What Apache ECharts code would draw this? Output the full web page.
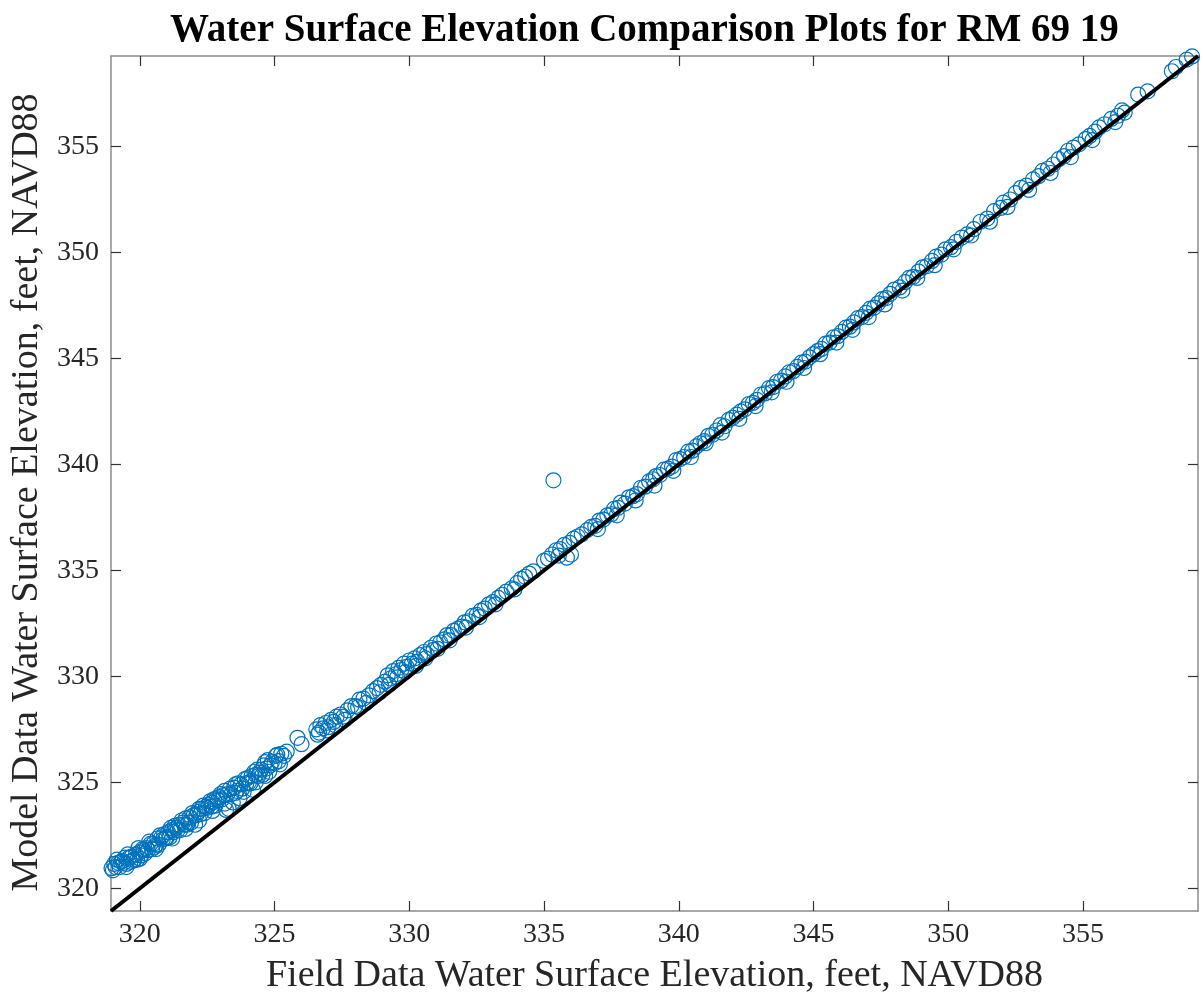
<!DOCTYPE html>
<html><head><meta charset="utf-8">
<script src="https://cdn.jsdelivr.net/npm/echarts@6/dist/echarts.min.js"></script>
<style>html,body{margin:0;padding:0;background:#fff}#chart{width:1203px;height:1000px}</style>
</head><body><div id="chart"></div>
<script>
// Axis limits (same for both axes) and tick labels
const axisRange = [318.93, 359.27];
const tickValues = [320, 325, 330, 335, 340, 345, 350, 355];

// [field, model] water surface elevations
const lowRange = [
[318.95,320.95],[319.0,320.85],[319.05,321.15],[319.1,321.0],[319.2,321.2],[319.25,321.0],[319.3,321.25],[319.35,321.3],
[319.4,321.2],[319.45,321.45],[319.5,321.15],[319.6,321.45],[319.65,321.25],[319.7,321.5],[319.75,321.3],[319.8,321.35],
[319.85,321.6],[319.9,321.35],[320.0,321.7],[320.05,321.55],[320.1,321.85],[320.15,321.8],[320.2,321.65],[320.25,321.9],
[320.3,321.8],[320.4,322.1],[320.45,321.85],[320.5,322.1],[320.55,321.95],[320.6,322.05],[320.65,322.35],[320.7,322.05],
[320.8,322.4],[320.85,322.3],[320.9,322.55],[320.95,322.35],[321.0,322.4],[321.05,322.65],[321.1,322.4],[321.2,322.75],
[321.25,322.65],[321.3,322.95],[321.35,322.85],[321.4,322.75],[321.45,323.0],[321.5,322.75],[321.6,323.1],[321.65,323.0],
[321.7,323.3],[321.75,323.0],[321.8,323.1],[321.85,323.35],[321.9,323.1],[322.0,323.45],[322.05,323.0],[322.1,323.45],
[322.15,323.6],[322.2,323.75],[322.25,323.5],[322.3,323.75],[322.4,323.55],[322.45,323.85],[322.5,323.8],[322.55,323.95],
[322.6,324.1],[322.65,323.85],[322.7,324.05],[322.8,323.9],[322.85,324.25],[322.9,324.15],[322.95,324.3],[323.0,324.45],
[323.05,324.2],[323.1,324.4],[323.2,323.7],[323.25,324.45],[323.3,323.75],[323.35,324.7],[323.4,324.45],[323.45,324.05],
[323.5,324.75],[323.55,324.5],[323.6,324.6],[323.65,324.95],[323.7,324.25],[323.75,324.9],[323.8,324.7],[323.9,325.15],
[323.95,324.95],[324.0,325.2],[324.05,325.0],[324.1,324.95],[324.15,325.3],[324.2,324.65],[324.3,325.35],[324.35,325.6],
[324.4,325.3],[324.45,325.45],[324.5,325.6],[324.55,325.35],[324.6,325.8],[324.7,325.65],[324.75,326.05],[324.8,325.5],
[324.85,325.8],[324.9,325.95],[325.0,325.9],[325.05,326.25],[325.15,326.0],[325.25,326.35],[325.35,326.25],[325.45,326.45]
];
const lowRangeExtra = [
[319.15,321.35],[319.55,321.6],[319.95,321.9],[320.35,322.2],[320.75,322.5],[321.15,322.85],[321.55,323.2],[321.95,323.55],
[322.35,323.9],[322.75,324.2],[323.15,324.6],[323.55,324.9],[324.25,325.5],[324.65,325.95],[325.1,326.3],
[319.5,321.0],[320.0,321.4],[320.6,321.85],[321.2,322.35],[321.7,322.8],[322.2,323.2],[322.7,323.65],[323.15,324.0],
[323.85,324.55],[324.3,325.0],[324.65,325.3],[325.2,325.85]
];
const midRange = [
[325.85,327.1],[326.0,326.8],[326.55,327.5],[326.65,327.35],[326.7,327.7],[326.8,327.55],[326.9,327.8],[327.0,327.6],
[327.1,327.95],[327.2,327.85],[327.3,328.1],[327.45,328.2],[327.55,328.1],[327.7,328.4],[327.85,328.6],[328.0,328.6],
[328.15,328.9],[328.3,328.95],[328.5,329.1],[328.65,329.3],[328.8,329.45],[328.95,329.6],[329.1,329.75],[329.2,330.05],
[329.3,329.9],[329.4,330.25],[329.5,330.1],[329.6,330.4],[329.7,330.3],[329.8,330.6],[329.9,330.45],[330.0,330.75],
[330.1,330.6],[330.2,330.85],[330.3,330.7],[330.4,331.0],[330.55,331.15],[330.65,331.05],[330.8,331.35],[330.9,331.25],
[331.0,331.55],[331.15,331.6],[331.3,331.75],[331.4,331.95],[331.55,331.95],[331.65,332.15],[331.8,332.25],[331.95,332.35],
[332.05,332.55],[332.2,332.6],[332.35,332.85],[332.5,332.9],[332.65,333.1],[332.8,333.2],[332.95,333.4],[333.1,333.5],
[333.3,333.7],[333.45,333.85],[333.6,334.0],[333.8,334.15],[334.0,334.4],[334.15,334.6],[334.3,334.7],[334.45,334.85],
[334.6,334.95],[335.0,335.45],[335.15,335.55],[335.3,335.75],[335.45,335.95],[335.6,336.0],[335.75,336.2],[335.85,335.6],
[336.0,335.75],[336.1,336.5],[336.25,336.6],[336.4,336.7]
];
const midRangeExtra = [
[326.6,327.25],[326.95,327.45],[327.25,327.7],[327.6,327.95],[328.1,328.55],[328.4,328.75],[328.9,329.25],[329.25,329.6],
[329.55,329.95],[329.85,330.2],[330.25,330.5],[330.6,330.85],[331.05,331.3],[331.5,331.7],[332.1,332.3],[332.6,332.8],
[333.2,333.4],[333.9,334.1],[335.55,335.7],[335.95,336.3]
];
const outlier = [[335.35,339.25]];
const highRange = [
[336.6,336.9],[336.75,337.05],[336.9,337.1],[337.05,337.35],[337.2,337.4],[337.35,337.6],[337.5,337.65],[337.6,337.9],
[337.75,337.95],[337.85,338.2],[338.0,338.15],[338.15,338.45],[338.3,338.5],[338.45,338.6],[338.6,338.9],[338.75,338.95],
[338.9,339.2],[339.05,339.3],[339.15,339.45],[339.3,339.5],[339.45,339.75],[339.6,339.8],[339.75,339.9],[339.9,340.2],
[340.05,340.25],[340.2,340.35],[340.35,340.6],[340.5,340.65],[340.65,340.85],[340.8,341.0],[340.95,341.1],[341.1,341.35],
[341.25,341.4],[341.4,341.6],[341.55,341.85],[341.7,341.8],[341.85,342.1],[342.0,342.2],[342.15,342.35],[342.3,342.5],
[342.45,342.6],[342.6,342.85],[342.75,342.9],[342.9,343.05],[343.05,343.3],[343.2,343.35],[343.35,343.6],[343.5,343.65],
[343.65,343.9],[343.8,343.95],[343.95,344.15],[344.1,344.35],[344.25,344.4],[344.4,344.6],[344.55,344.8],[344.7,344.85],
[344.85,345.05],[345.0,345.2],[345.15,345.35],[345.3,345.45],[345.45,345.7],[345.6,345.75],[345.75,346.0],[345.9,346.05],
[346.05,346.25],[346.2,346.45],[346.35,346.5],[346.5,346.7],[346.65,346.9],[346.8,346.95],[346.95,347.15],[347.1,347.35],
[347.25,347.4],[347.4,347.6],[347.55,347.8],[347.7,347.85],[347.85,348.05],[348.0,348.25],[348.2,348.35],[348.4,348.6],
[348.55,348.8],[348.7,348.85],[348.9,349.1],[349.05,349.3],[349.2,349.35],[349.4,349.6],[349.55,349.8],[349.75,349.9],
[349.9,350.15],[350.1,350.25],[350.3,350.5],[350.5,350.7],[350.7,350.85],[350.95,351.1],[351.2,351.45],[351.45,351.6],
[351.7,351.95],[351.95,352.1],[352.05,352.35],[352.3,352.5],[352.5,352.8],[352.7,353.05],[352.9,353.15],[353.15,353.45],
[353.35,353.6],[353.5,353.85],[353.7,353.95],[353.9,354.15],[354.1,354.4],[354.3,354.55],[354.45,354.8],[354.65,354.95],
[354.85,355.1],[355.1,355.35],[355.25,355.5],[355.45,355.7],[355.6,355.9],[355.8,356.05],[356.05,356.3],[356.3,356.45],
[356.45,356.7],[356.55,356.6],[357.05,357.45],[357.4,357.6],[358.3,358.55],[358.45,358.75],[358.85,359.1],[359.05,359.25]
];
const highRangeExtra = [
[337.0,336.95],[337.7,337.6],[338.4,338.3],[339.1,339.0],[339.8,339.7],[340.45,340.35],[341.0,341.0],[341.6,341.5],
[342.25,342.15],[342.85,342.75],[343.45,343.4],[344.0,343.9],[344.65,344.55],[345.25,345.2],[345.85,345.75],[346.45,346.35],
[347.05,346.95],[347.65,347.55],[348.3,348.2],[348.85,348.8],[349.5,349.4],[350.2,350.15],[350.85,350.8],[351.55,351.45],
[352.2,352.15],[353.0,352.95],[353.8,353.75],[354.55,354.5],[355.35,355.3],[356.2,356.15]
];
// 1:1 reference line end points
const oneToOne = [[318.93,318.93],[359.27,359.27]];

const serif = "'Liberation Serif', 'Times New Roman', serif";
const lineColor = '#8c8c8c';
const tickColor = '#333333';
const textColor = '#262626';

function axis(position, withLabel, name, nameGap) {
  const a = {
    type: 'value', position: position,
    min: axisRange[0], max: axisRange[1], splitNumber: 8,
    axisLine: { show: true, onZero: false, lineStyle: { color: lineColor, width: 1.5 } },
    axisTick: { show: true, inside: true, length: 10, customValues: tickValues, lineStyle: { color: tickColor, width: 1.2 } },
    axisLabel: { show: withLabel, customValues: tickValues, color: textColor, fontFamily: serif, fontSize: 28, margin: 10,
      formatter: function (v) { return (Math.abs(v % 5) < 1e-6) ? String(v) : ''; } },
    splitLine: { show: false }
  };
  if (name) {
    a.name = name; a.nameLocation = 'middle'; a.nameGap = nameGap;
    a.nameTextStyle = { fontFamily: serif, fontSize: 38, color: textColor };
  }
  return a;
}

const xBottom = axis('bottom', true, 'Field Data Water Surface Elevation, feet, NAVD88', 46);
const xTop = axis('top', false);
const yLeft = axis('left', true, 'Model Data Water Surface Elevation, feet, NAVD88', 63);
yLeft.axisLabel.margin = 12;
yLeft.nameTextStyle.padding = [0, 18, 0, 0];
const yRight = axis('right', false);

const chart = echarts.init(document.getElementById('chart'), null, { renderer: 'canvas' });
chart.setOption({
  animation: false,
  backgroundColor: '#ffffff',
  title: {
    text: 'Water Surface Elevation Comparison Plots for RM 69 19',
    left: 165, top: 6,
    textStyle: { fontFamily: serif, fontWeight: 'bold', fontSize: 39, color: '#000000' }
  },
  grid: { left: 111, right: 5, top: 56, bottom: 85, containLabel: false },
  xAxis: [xBottom, xTop],
  yAxis: [yLeft, yRight],
  series: [
    {
      type: 'scatter', xAxisIndex: 0, yAxisIndex: 0,
      data: lowRange.concat(lowRangeExtra, midRange, midRangeExtra, outlier, highRange, highRangeExtra),
      symbol: 'circle', symbolSize: 15, clip: false, silent: true,
      itemStyle: { color: 'rgba(0,0,0,0)', borderColor: '#0072BD', borderWidth: 1.2, opacity: 1 }
    },
    {
      type: 'line', xAxisIndex: 0, yAxisIndex: 0,
      data: oneToOne, symbol: 'none', clip: false, silent: true, z: 5,
      lineStyle: { color: '#000000', width: 4 }
    }
  ]
});
</script>
</body></html>
